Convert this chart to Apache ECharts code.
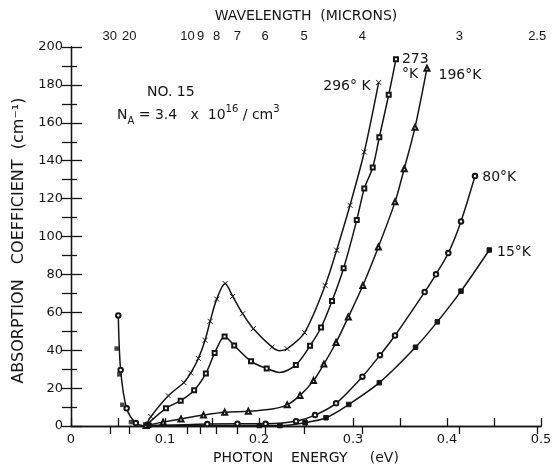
<!DOCTYPE html>
<html>
<head>
<meta charset="utf-8">
<script src="https://cdn.jsdelivr.net/npm/echarts@6/dist/echarts.min.js"></script>
<style>
  html, body { margin: 0; padding: 0; background: #fff; }
  #chart { width: 555px; height: 470px; }
</style>
</head>
<body>
<div id="chart"></div>
<script>
// Absorption coefficient (cm^-1) against photon energy (eV), sample No. 15.
// Marked readings per temperature, plus a few unmarked readings along each curve.

// 296 °K (crosses)
const e296 = [0.080, 0.085, 0.1035, 0.120, 0.1273, 0.1355, 0.1426, 0.148, 0.155, 0.164, 0.172, 0.1826, 0.194, 0.214, 0.230, 0.2485, 0.2704, 0.2826, 0.2968, 0.312, 0.3273];
const a296 = [0.5, 5.0, 16.0, 23.0, 28.0, 35.7, 45.3, 55.3, 67.0, 75.2, 68.4, 59.3, 51.4, 41.7, 40.8, 49.3, 74.2, 92.8, 116.5, 144.6, 181.3];
const bend296E = [0.222];
const bend296A = [39.8];

// 273 °K (open squares)
const e273 = [0.080, 0.101, 0.1167, 0.131, 0.1435, 0.1528, 0.1634, 0.1736, 0.1915, 0.2082, 0.2392, 0.2543, 0.266, 0.2777, 0.290, 0.304, 0.312, 0.321, 0.328, 0.338, 0.3457];
const a273 = [0.5, 9.4, 13.4, 18.9, 27.8, 38.5, 47.3, 42.5, 34.2, 30.4, 32.3, 42.4, 52.0, 66.0, 83.3, 108.7, 125.3, 136.4, 152.4, 174.8, 193.5];
const bend273E = [0.222];
const bend273A = [28.3];

// 196 °K (triangles)
const e196 = [0.080, 0.098, 0.117, 0.141, 0.1635, 0.1886, 0.230, 0.2436, 0.258, 0.269, 0.282, 0.295, 0.3105, 0.327, 0.3447, 0.3545, 0.366, 0.3787];
const a196 = [0.3, 2.1, 3.8, 5.8, 7.3, 7.8, 11.2, 16.2, 24.0, 32.7, 44.1, 57.5, 74.2, 94.5, 118.3, 135.8, 157.6, 188.8];
const bend196E = [0.214];
const bend196A = [9.0];

// 80 °K (open circles), low-energy branch first
const e80 = [0.0503, 0.0528, 0.0592, 0.069, 0.145, 0.177, 0.207, 0.2394, 0.2596, 0.282, 0.310, 0.3287, 0.3447, 0.3762, 0.3883, 0.4014, 0.4149, 0.4298];
const a80 = [58.4, 29.6, 9.4, 1.6, 1.1, 1.3, 1.2, 2.6, 5.8, 12.0, 26.1, 37.4, 47.8, 70.7, 80.1, 91.3, 108.0, 131.9];
const bend80E = [0.079];
const bend80A = [0.2];

// 15 °K (filled squares): low-energy points, then the main curve
const e15Low = [0.0486, 0.0514, 0.0546, 0.0638];
const a15Low = [40.9, 27.3, 11.2, 2.1];
const e15 = [0.083, 0.2004, 0.2223, 0.249, 0.2713, 0.2955, 0.328, 0.3665, 0.3897, 0.4149, 0.445];
const a15 = [0.5, 0.3, 0.3, 1.8, 4.4, 11.4, 22.9, 41.6, 55.0, 71.2, 92.9];

// Wavelength scale (microns) shown along the top
const wavelengths = [30, 20, 10, 9, 8, 7, 6, 5, 4, 3, 2.5];
const HC = 1.2398; // eV * micron

const FONT = 'DejaVu Sans';
const INK = '#151515';

function pairs(E, A) { return E.map((e, i) => [e, A[i]]); }

function curveData(E, A, bendE, bendA) {
  const marked = pairs(E, A).map(p => ({ value: p }));
  const bends = pairs(bendE, bendA).map(p => ({ value: p, symbol: 'none' }));
  return marked.concat(bends).sort((p, q) => p.value[0] - q.value[0]);
}

function withEndLabel(data, text, label) {
  const last = data[data.length - 1];
  last.label = Object.assign({
    show: true, formatter: text, color: INK, fontFamily: FONT, fontSize: 14
  }, label);
  return data;
}

const crossPath = 'path://M0,0L10,10M10,0L0,10';

function lineSeries(name, data, symbol, size) {
  return {
    name, type: 'line', data,
    smooth: 0.3,
    symbol, symbolSize: size, showSymbol: true,
    lineStyle: { color: INK, width: 1.5 },
    itemStyle: { color: INK, borderColor: INK, borderWidth: 1 },
    label: { show: false },
    emphasis: { disabled: true },
    z: 3
  };
}

const topTicks = wavelengths.map(l => HC / l);

const option = {
  animation: false,
  backgroundColor: '#fff',
  textStyle: { fontFamily: FONT, color: INK },
  grid: { left: 71, right: 14, top: 47, bottom: 42 },
  xAxis: [
    {
      type: 'value', min: 0, max: 0.5, interval: 0.05,
      name: 'PHOTON    ENERGY     (eV)', nameLocation: 'middle', nameGap: 24,
      nameTextStyle: { fontFamily: FONT, fontSize: 14, color: INK },
      axisLine: { lineStyle: { color: INK, width: 1.3 } },
      axisTick: { inside: true, length: 8, lineStyle: { color: INK, width: 1.3 } },
      axisLabel: {
        margin: 7, fontFamily: FONT, fontSize: 13, color: INK,
        formatter: v => (Math.round(v * 100) % 10 === 0 ? String(+v.toFixed(1)) : '')
      },
      splitLine: { show: false }
    },
    {
      type: 'value', position: 'top', min: 0, max: 0.5,
      name: 'WAVELENGTH  (MICRONS)', nameLocation: 'middle', nameGap: 24,
      nameTextStyle: { fontFamily: FONT, fontSize: 14, color: INK },
      axisLine: { lineStyle: { color: INK, width: 1.3 } },
      axisTick: { inside: true, length: 8, customValues: topTicks, lineStyle: { color: INK, width: 1.3 } },
      axisLabel: {
        customValues: topTicks, margin: 4, fontFamily: 'Liberation Sans', fontSize: 13, color: INK,
        formatter: v => String(Math.round(HC / v * 10) / 10)
      },
      splitLine: { show: false }
    }
  ],
  yAxis: [
    {
      type: 'value', min: 0, max: 200, interval: 20,
      name: 'ABSORPTION   COEFFICIENT  (cm⁻¹)', nameLocation: 'middle', nameGap: 40,
      nameTextStyle: { fontFamily: FONT, fontSize: 16, color: INK, padding: [0, 8, 0, 0] },
      axisLine: { show: true, lineStyle: { color: INK, width: 1.3 } },
      axisTick: { show: true, inside: true, length: 11, lineStyle: { color: INK, width: 1.3 } },
      minorTick: { show: true, splitNumber: 2, length: 6, lineStyle: { color: INK, width: 1.3 } },
      axisLabel: { margin: 8, fontFamily: FONT, fontSize: 13, color: INK },
      splitLine: { show: false }
    },
    {
      type: 'value', position: 'right', min: 0, max: 200, interval: 10,
      axisLine: { show: true, lineStyle: { color: INK, width: 1.3 } },
      axisTick: { show: true, inside: true, length: 9, lineStyle: { color: INK, width: 1.3 } },
      axisLabel: { show: false },
      splitLine: { show: false }
    }
  ],
  graphic: [
    {
      type: 'text', x: 147, y: 92,
      style: { text: 'NO. 15', fontFamily: FONT, fontSize: 14, fill: INK, verticalAlign: 'middle' }
    },
    {
      type: 'text', x: 117, y: 115,
      style: {
        text: '{n|N}{s|A}{n| = 3.4   x  10}{p|16}{n| / cm}{p|3}',
        fill: INK, verticalAlign: 'middle',
        rich: {
          n: { fontFamily: FONT, fontSize: 14, lineHeight: 22, fill: INK },
          s: { fontFamily: FONT, fontSize: 10, lineHeight: 10, verticalAlign: 'bottom', fill: INK },
          p: { fontFamily: FONT, fontSize: 10, lineHeight: 10, verticalAlign: 'top', fill: INK }
        }
      }
    }
  ],
  series: [
    lineSeries('296°K', withEndLabel(curveData(e296, a296, bend296E, bend296A), '296° K',
      { position: 'left', distance: 5, offset: [0, 4] }), crossPath, 5),
    lineSeries('273°K', withEndLabel(curveData(e273, a273, bend273E, bend273A), '273\n°K',
      { position: 'right', distance: 3, offset: [0, 8], align: 'left', lineHeight: 15 }), 'emptyRect', 4),
    lineSeries('196°K', withEndLabel(curveData(e196, a196, bend196E, bend196A), '196°K',
      { position: 'right', distance: 8, offset: [0, 7] }), 'emptyTriangle', 5),
    lineSeries('80°K', withEndLabel(curveData(e80, a80, bend80E, bend80A), '80°K',
      { position: 'right', distance: 4, offset: [0, 1] }), 'emptyCircle', 4.5),
    lineSeries('15°K', withEndLabel(curveData(e15, a15, [], []), '15°K',
      { position: 'right', distance: 5, offset: [0, 2] }), 'rect', 4.5),
    {
      name: '15°K low', type: 'scatter', data: pairs(e15Low, a15Low),
      symbol: 'rect', symbolSize: 4.5,
      itemStyle: { color: INK },
      emphasis: { disabled: true }, z: 4
    }
  ]
};

const chart = echarts.init(document.getElementById('chart'), null, { renderer: 'canvas' });
chart.setOption(option);
</script>
</body>
</html>
